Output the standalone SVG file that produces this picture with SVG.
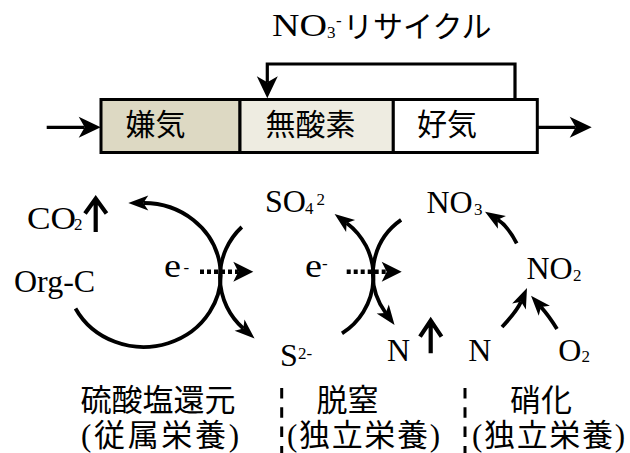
<svg xmlns="http://www.w3.org/2000/svg" width="630" height="453" viewBox="0 0 630 453">
<defs>
<style>
.lat{font-family:"Liberation Serif","DejaVu Serif",serif;font-size:32px;fill:#000}
.sub{font-size:17px}
.jp{font-family:"Noto Sans CJK JP",sans-serif;font-size:30px;fill:#000}
.lab{font-family:"Liberation Serif","Noto Sans CJK JP",serif;font-size:31px;fill:#000}
.ln{fill:none;stroke:#000;stroke-width:3.2}
.arc{fill:none;stroke:#000;stroke-width:3.8}
.dot{fill:none;stroke:#000;stroke-width:4.5;stroke-dasharray:4 3}
.div{fill:none;stroke:#000;stroke-width:3;stroke-dasharray:10.5 8.8}
.up{fill:none;stroke:#000;stroke-width:4.2;stroke-linejoin:miter;stroke-miterlimit:10}
.box{stroke:#000;stroke-width:3}
</style>
<marker id="ahL" markerUnits="userSpaceOnUse" orient="auto" overflow="visible" markerWidth="1" markerHeight="1"><path d="M16,0 L-6,-10.5 L0,0 L-6,10.5 Z" fill="#000"/></marker>
<marker id="ahS" markerUnits="userSpaceOnUse" orient="auto" overflow="visible" markerWidth="1" markerHeight="1"><path d="M15,0 L-5,-7.5 L0,0 L-5,7.5 Z" fill="#000"/></marker>
<marker id="ahD" markerUnits="userSpaceOnUse" orient="auto" overflow="visible" markerWidth="1" markerHeight="1"><path d="M15,0 L-5,-10 L0,0 L-5,10 Z" fill="#000"/></marker>
</defs>
<rect width="630" height="453" fill="#fff"/>

<g id="title">
<text class="lat" y="36"><tspan x="272" textLength="55" lengthAdjust="spacingAndGlyphs">NO</tspan><tspan class="sub" x="327" y="37.5">3</tspan><tspan class="sub" x="336" y="26">-</tspan><tspan class="jp" x="343" y="36.5">リサイクル</tspan></text>
</g>

<g id="anaerobic">
<rect x="101" y="99.5" width="139" height="53" fill="#DDD9C3" class="box"/>
<text class="jp" x="125.5" y="135">嫌気</text>
</g>
<g id="anoxic">
<rect x="240" y="99.5" width="153.3" height="53" fill="#EEECE1" class="box"/>
<text class="jp" x="265.5" y="135">無酸素</text>
</g>
<g id="aerobic">
<rect x="393.3" y="99.5" width="144" height="53" fill="#fff" class="box"/>
<text class="jp" x="417" y="135">好気</text>
</g>

<g id="co2"><text class="lat" y="228.5"><tspan x="27" textLength="49" lengthAdjust="spacingAndGlyphs">CO</tspan><tspan class="sub" x="74" y="229.5">2</tspan></text></g>
<g id="orgc"><text class="lat" x="14" y="291.7">Org-C</text></g>
<g id="e1"><text class="lat"><tspan x="164" y="277" font-size="34" textLength="17" lengthAdjust="spacingAndGlyphs">e</tspan><tspan class="sub" x="183.5" y="272.8">-</tspan></text></g>
<g id="so4"><text class="lat" y="211.7"><tspan x="265">SO</tspan><tspan class="sub" x="305" y="213.5">4</tspan><tspan class="sub" x="316.5" y="205">2</tspan></text></g>
<g id="s2"><text class="lat" y="366"><tspan x="280">S</tspan><tspan class="sub" x="298" y="359">2-</tspan></text></g>
<g id="e2"><text class="lat"><tspan x="305" y="277" font-size="34" textLength="17" lengthAdjust="spacingAndGlyphs">e</tspan><tspan class="sub" x="322" y="269">-</tspan></text></g>
<g id="n2gas"><text class="lat" x="387" y="361">N</text></g>
<g id="nh4"><text class="lat" x="468.3" y="361">N</text></g>
<g id="o2"><text class="lat" y="361"><tspan x="558.3">O</tspan><tspan class="sub" x="581.5" y="362">2</tspan></text></g>
<g id="no3"><text class="lat" y="213.3"><tspan x="426.5">NO</tspan><tspan class="sub" x="474" y="215">3</tspan></text></g>
<g id="no2"><text class="lat" y="279.3"><tspan x="526.5">NO</tspan><tspan class="sub" x="573" y="280.5">2</tspan></text></g>

<g id="label-sulfate">
<text class="lab" x="80.5" y="411" textLength="155" lengthAdjust="spacing">硫酸塩還元</text>
<text class="lab" x="81" y="445.5" textLength="158" lengthAdjust="spacing">(従属栄養)</text>
</g>
<g id="label-denit">
<text class="lab" x="316.5" y="411">脱窒</text>
<text class="lab" x="287" y="445.5" textLength="153" lengthAdjust="spacing">(独立栄養)</text>
</g>
<g id="label-nitrif">
<text class="lab" x="510" y="411">硝化</text>
<text class="lab" x="472" y="445.5" textLength="153" lengthAdjust="spacing">(独立栄養)</text>
</g>

<g id="dividers">
<path class="div" d="M281.7 388 V453 M465 388 V453"/>
</g>

<g id="connectors">
<path class="ln" d="M46.7 127.3 H84.7" marker-end="url(#ahL)"/>
<path class="ln" d="M537.3 127.3 H575.7" marker-end="url(#ahL)"/>
<path class="ln" d="M515 98 V64 H267.3 V82.3" marker-end="url(#ahL)"/>
<path class="arc" d="M75.5 308.5 A77 72 0 1 0 143.3 203" marker-end="url(#ahS)"/>
<path class="arc" d="M241.8 227 A68.4 68.4 0 0 0 243.3 328.5" marker-end="url(#ahS)"/>
<path class="arc" d="M342 333.3 A67 67 0 0 0 346.6 222.9" marker-end="url(#ahS)"/>
<path class="arc" d="M401.1 219.9 A66 66 0 0 0 385.7 313" marker-end="url(#ahS)"/>
<path class="dot" d="M200 271.7 H238.3" marker-end="url(#ahD)"/>
<path class="dot" d="M346.7 271.7 H386.7" marker-end="url(#ahD)"/>
<path class="arc" d="M516.7 243.3 Q507.8 226.1 497.7 219.7" marker-end="url(#ahS)"/>
<path class="arc" d="M502 327 Q517 311 521 301.8" marker-end="url(#ahS)"/>
<path class="arc" d="M557 329 Q549 316 541 307" marker-end="url(#ahS)"/>
<path class="up" d="M95.7 232 V199 M85 213.5 L95.7 198.5 L106.5 213.5"/>
<path class="up" d="M430.7 353.3 V322 M420 336.7 L430.7 320.5 L441.5 336.7"/>
</g>
</svg>
